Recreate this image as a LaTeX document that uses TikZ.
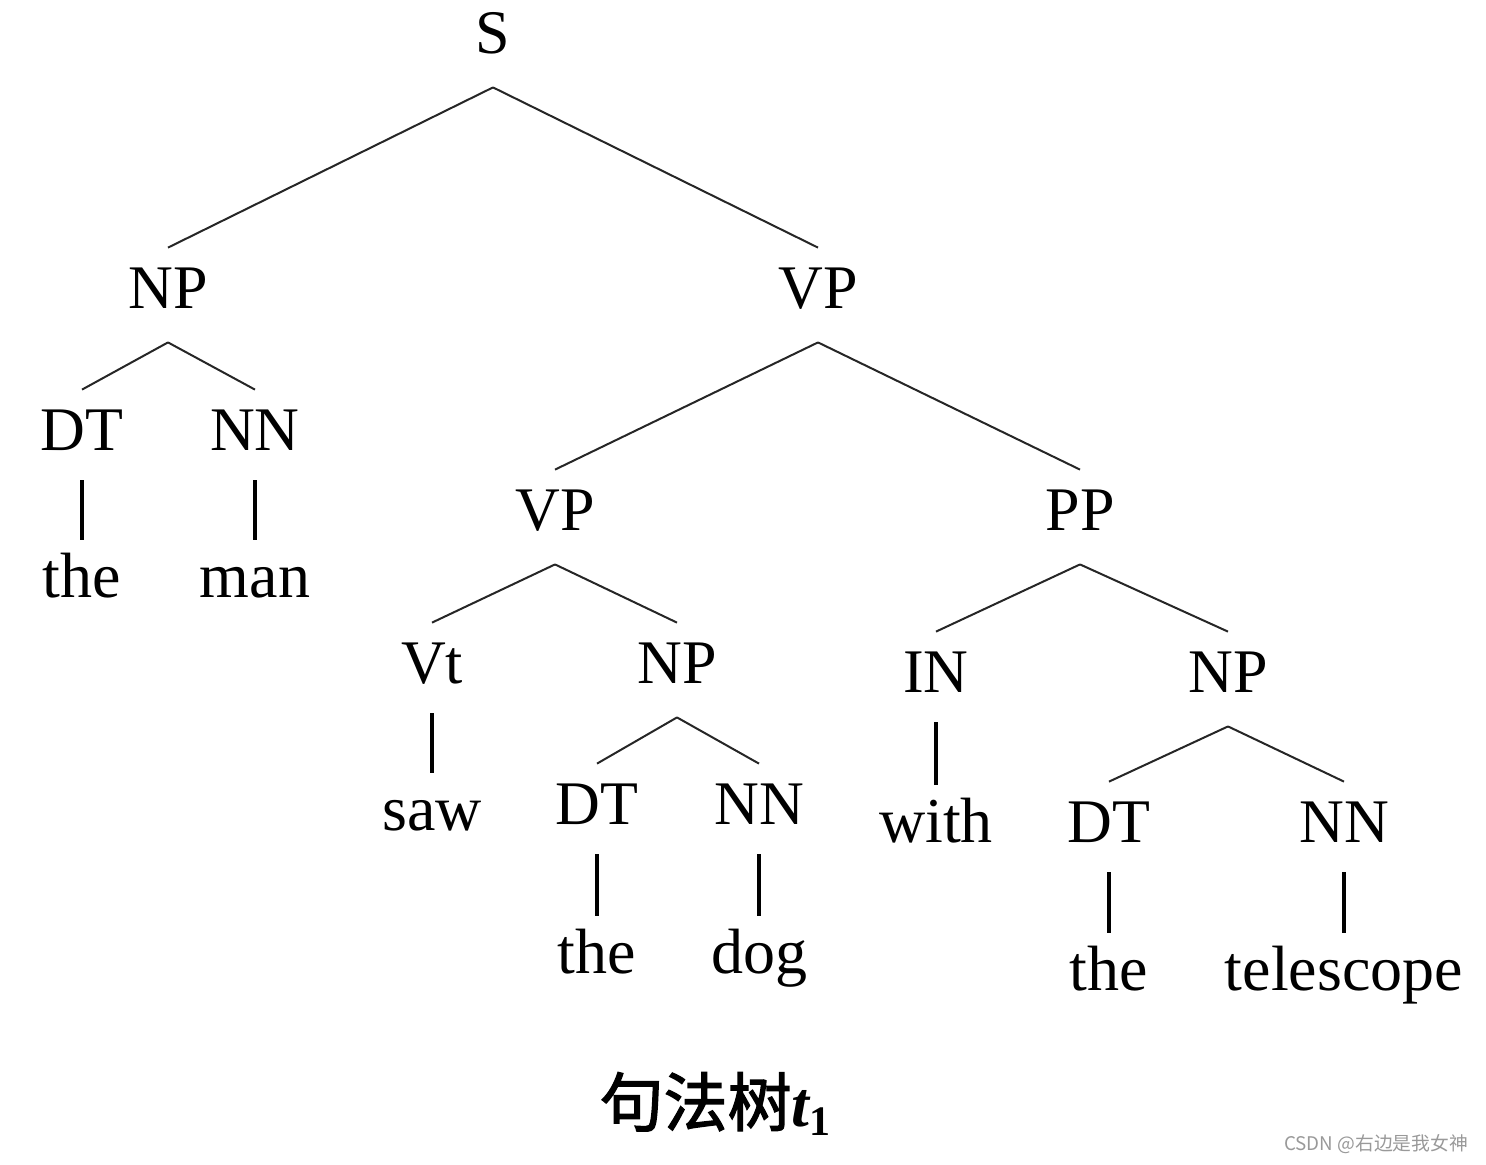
\documentclass[tikz,border=0pt]{standalone}
\usepackage{fontspec}
\setmainfont{Liberation Serif}
\newfontfamily\cjk{Noto Sans CJK SC}
\newfontfamily\cjkcap[FakeBold=2]{Noto Sans CJK SC}
\usetikzlibrary{positioning}
\tikzset{
  cat/.style={font=\fontsize{31}{36}\selectfont, inner sep=0pt,
    text height=30pt, text depth=17pt, anchor=base},
  word/.style={cat, font=\fontsize{32}{38}\selectfont},
  branch/.style={line width=1pt, draw=black!85},
  stem/.style={line width=2pt, shorten <=-2pt, shorten >=-1.5pt},
  wmark/.style={font=\cjk\fontsize{9.4}{11}\selectfont, text=black!40,
    inner sep=0pt, anchor=base}
}

\begin{document}
\begin{tikzpicture}[x=0.5pt, y=-0.5pt]
\useasboundingbox (0,0) rectangle (1486,1164);

% categories
\node[cat] (S) at (493,53) {S};
\node[cat] (NPa) at (168,308) {NP};
\node[cat] (VPa) at (818,308) {VP};
\node[cat] (DTa) at (82,450) {DT};
\node[cat] (NNa) at (255,450) {NN};
\node[cat] (VPb) at (555,530) {VP};
\node[cat] (PP) at (1080,530) {PP};
\node[cat] (Vt) at (432,683) {Vt};
\node[cat] (NPb) at (677,683) {NP};
\node[cat] (DTb) at (597,824) {DT};
\node[cat] (NNb) at (759,824) {NN};
\node[cat] (IN) at (936,692) {IN};
\node[cat] (NPc) at (1228,692) {NP};
\node[cat] (DTc) at (1109,842) {DT};
\node[cat] (NNc) at (1344,842) {NN};

% words
\node[word] (thea) at (82,597) {the};
\node[word] (man) at (255,597) {man};
\node[word] (saw) at (432,830) {saw};
\node[word] (theb) at (597,973) {the};
\node[word] (dog) at (759,973) {dog};
\node[word] (with) at (936,842) {with};
\node[word] (thec) at (1109,990) {the};
\node[word] (telescope) at (1344,990) {telescope};

\draw
	(S.south) edge[branch] (NPa.north)
	(S.south) edge[branch] (VPa.north)
	(NPa.south) edge[branch] (DTa.north)
	(NPa.south) edge[branch] (NNa.north)
	(VPa.south) edge[branch] (VPb.north)
	(VPa.south) edge[branch] (PP.north)
	(VPb.south) edge[branch] (Vt.north)
	(VPb.south) edge[branch] (NPb.north)
	(NPb.south) edge[branch] (DTb.north)
	(NPb.south) edge[branch] (NNb.north)
	(PP.south) edge[branch] (IN.north)
	(PP.south) edge[branch] (NPc.north)
	(NPc.south) edge[branch] (DTc.north)
	(NPc.south) edge[branch] (NNc.north)
;
\draw
	(DTa.south) edge[stem] (thea.north)
	(NNa.south) edge[stem] (man.north)
	(Vt.south) edge[stem] (saw.north)
	(DTb.south) edge[stem] (theb.north)
	(NNb.south) edge[stem] (dog.north)
	(IN.south) edge[stem] (with.north)
	(DTc.south) edge[stem] (thec.north)
	(NNc.south) edge[stem] (telescope.north)
;

% caption
\node[anchor=base, inner sep=0pt] (title) at (715,1126)
  {{\cjkcap\fontsize{32}{38}\selectfont 句法树}{\fontsize{32}{38}\selectfont\bfseries\itshape t}{\fontsize{21}{24}\selectfont\bfseries\raisebox{-0.22em}{1}}};
\node[wmark] (csdn) at (1376,1150) {CSDN @右边是我女神};
\end{tikzpicture}
\end{document}
